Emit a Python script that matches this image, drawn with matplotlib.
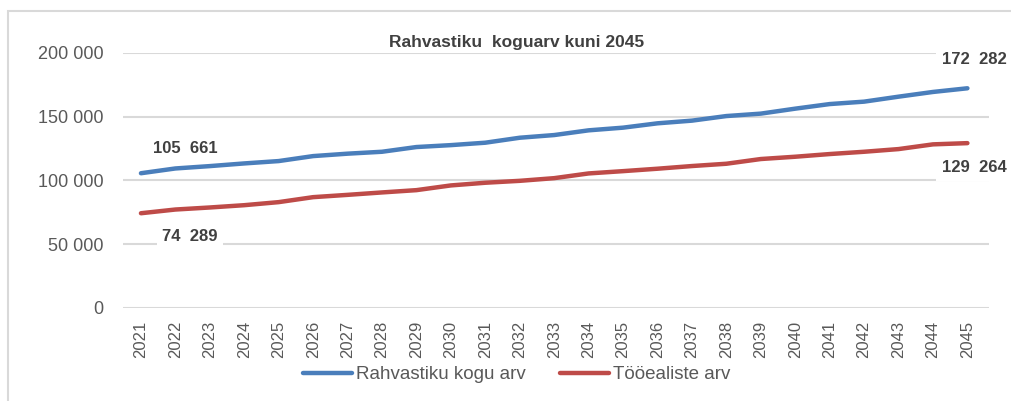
import matplotlib.pyplot as plt
from matplotlib.patches import Rectangle

plt.rcParams['font.family'] = ['Liberation Sans', 'DejaVu Sans']

years = list(range(2021, 2046))
total = [105661, 109400, 111250, 113350, 115200, 119100, 121000, 122500, 126200, 127700,
         129600, 133500, 135600, 139300, 141400, 144800, 146900, 150500, 152400, 156300,
         159900, 161800, 165700, 169400, 172282]
working = [74289, 77200, 78800, 80600, 83000, 86900, 88700, 90600, 92400, 96100,
           98200, 99700, 101800, 105500, 107300, 109200, 111300, 113100, 116800, 118600,
           120700, 122500, 124600, 128300, 129264]
labels = ['Rahvastiku kogu arv', 'Tööealiste arv']
title = 'Rahvastiku  koguarv kuni 2045'

blue = '#4A7EBB'
red = '#BE4B48'
grey = '#595959'

fig = plt.figure(figsize=(10.11, 4.01), dpi=100)
fig.patches.append(Rectangle((0.008, -0.1), 1.2, 1.072, transform=fig.transFigure,
                             fill=False, edgecolor='#D9D9D9', linewidth=1.5))
ax = fig.add_axes([0.1217, 0.232, 0.8563, 0.636])

x = list(range(len(years)))
ax.plot(x, total, color=blue, linewidth=3.2, solid_capstyle='round', label=labels[0], zorder=3)
ax.plot(x, working, color=red, linewidth=3.2, solid_capstyle='round', label=labels[1], zorder=3)

ax.set_xlim(-0.52, len(years) - 0.38)
ax.set_ylim(0, 200000)
ax.set_yticks([0, 50000, 100000, 150000, 200000])
ax.set_yticklabels([f'{v:,}'.replace(',', ' ') for v in [0, 50000, 100000, 150000, 200000]],
                   fontsize=13, color=grey)
ax.set_xticks(x)
ax.set_xticklabels([str(y) for y in years], rotation=90, fontsize=12, color=grey)
ax.tick_params(length=0, pad=9)
ax.tick_params(axis='y', pad=14)
ax.grid(axis='y', color='#D9D9D9', linewidth=1.5, zorder=0)
for s in ax.spines.values():
    s.set_visible(False)

box = dict(facecolor='white', edgecolor='none', pad=4)
fmt = lambda v: f'{v:,}'.replace(',', '  ')
ax.text(1.28, 125000, fmt(total[0]), fontsize=12, fontweight='bold', color='#404040',
        ha='center', va='center', bbox=box, zorder=4)
ax.text(1.42, 56000, fmt(working[0]), fontsize=12, fontweight='bold', color='#404040',
        ha='center', va='center', bbox=box, zorder=4)
ax.text(24.2, 194500, fmt(total[-1]), fontsize=12, fontweight='bold', color='#404040',
        ha='center', va='center', bbox=box, zorder=4, clip_on=False)
ax.text(24.2, 109800, fmt(working[-1]), fontsize=12, fontweight='bold', color='#404040',
        ha='center', va='center', bbox=box, zorder=4, clip_on=False)

fig.text(0.511, 0.893, title, fontsize=12.5, fontweight='bold', color='#404040',
         ha='center', va='center')

fig.legend(loc='center', bbox_to_anchor=(0.511, 0.065), ncol=2, frameon=False,
           fontsize=13.5, handlelength=2.65, columnspacing=1.8, handletextpad=0.2,
           labelcolor=grey)

fig.savefig('out.png', dpi=100)
